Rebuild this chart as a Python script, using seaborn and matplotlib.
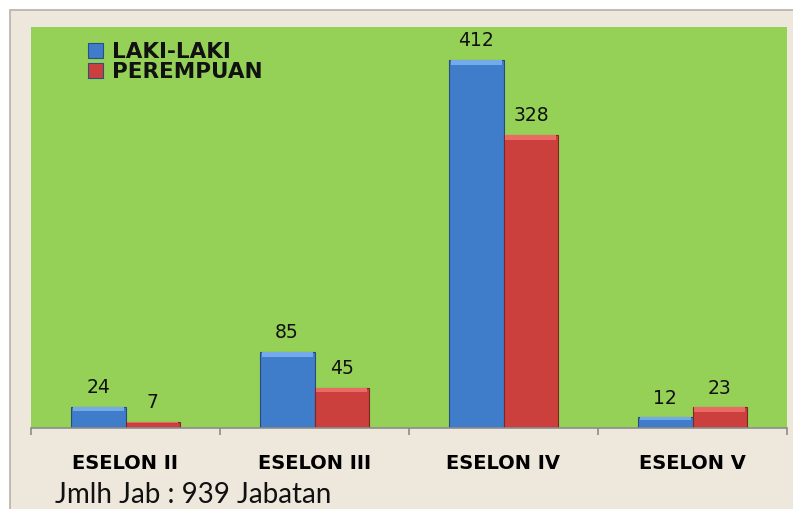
import matplotlib
matplotlib.use("Agg")
import matplotlib.pyplot as plt
import seaborn as sns
import pandas as pd
from matplotlib.patches import Rectangle

categories = ["ESELON II", "ESELON III", "ESELON IV", "ESELON V"]
laki = [24, 85, 412, 12]
perempuan = [7, 45, 328, 23]
series = ["LAKI-LAKI", "PEREMPUAN"]
footer = "Jmlh Jab : 939 Jabatan"

df = pd.DataFrame({
    "Eselon": categories * 2,
    "Jumlah": laki + perempuan,
    "Jenis": [series[0]] * len(categories) + [series[1]] * len(categories),
})

sns.set_theme(style="white")
plt.rcParams["font.family"] = ["DejaVu Sans"]

fig = plt.figure(figsize=(7.93, 5.09), dpi=100)
fig.patch.set_facecolor("white")

# beige frame behind the chart
fig.patches.append(Rectangle((10 / 793, -0.01), 1.0, (499 / 509) + 0.01,
                             transform=fig.transFigure, facecolor="#EEE8DC",
                             edgecolor="#B8B2A6", linewidth=1.2, zorder=-10))

ax = fig.add_axes([31 / 793, 81 / 509, 756 / 793, 401 / 509])
ax.set_zorder(1)
ax.set_facecolor("#95D157")

palette = {"LAKI-LAKI": "#3F7DCB", "PEREMPUAN": "#CB403D"}
sns.barplot(data=df, x="Eselon", y="Jumlah", hue="Jenis", order=categories,
            hue_order=series, palette=palette, width=0.58, gap=0,
            saturation=1, edgecolor="#2A4F80", linewidth=0.8, ax=ax)

# darker edges for red bars, bevel highlight on top
for p in list(ax.patches):
    h = p.get_height()
    if h <= 0:
        continue
    fc = p.get_facecolor()
    if fc[0] > 0.5:
        p.set_edgecolor("#7E2422")
        light = "#EA6A66"
    else:
        p.set_edgecolor("#274C7C")
        light = "#72AAEA"
    top_h = min(h * 0.25, 5)
    ax.add_patch(Rectangle((p.get_x() + 0.01, h - top_h), p.get_width() - 0.02, top_h,
                           facecolor=light, edgecolor="none", zorder=p.get_zorder() + 0.1))

for cont in ax.containers:
    ax.bar_label(cont, padding=7, fontsize=13.5, color="#111111", fontweight="medium")

ax.set_ylim(0, 449)
ax.set_xlim(-0.5, 3.5)
ax.set_yticks([])
ax.set_xlabel("")
ax.set_ylabel("")
for s in ["top", "right", "left"]:
    ax.spines[s].set_visible(False)
ax.spines["bottom"].set_color("#8C8C8C")
ax.spines["bottom"].set_linewidth(1.2)

ax.set_xticks(range(len(categories)))
ax.set_xticklabels(categories, fontsize=14, fontweight="heavy", color="black")
ax.tick_params(axis="x", which="major", bottom=True, length=0, pad=19)
ax.set_xticks([-0.5, 0.5, 1.5, 2.5, 3.5], minor=True)
ax.tick_params(axis="x", which="minor", bottom=True, length=5, color="#8C8C8C",
               width=1.2, direction="out")

leg = ax.legend(loc="upper left", bbox_to_anchor=(0.055, 1.0), frameon=False,
                handlelength=0.7, handleheight=0.7, handletextpad=0.45,
                labelspacing=0.0, borderaxespad=0.3,
                prop={"size": 15.5, "weight": "bold"})
for t in leg.get_texts():
    t.set_color("#111111")

fig.text(55 / 793, 6 / 509, footer, fontsize=20, family="Lato", color="#111111")

plt.savefig("out.png", dpi=100, facecolor=fig.get_facecolor())
